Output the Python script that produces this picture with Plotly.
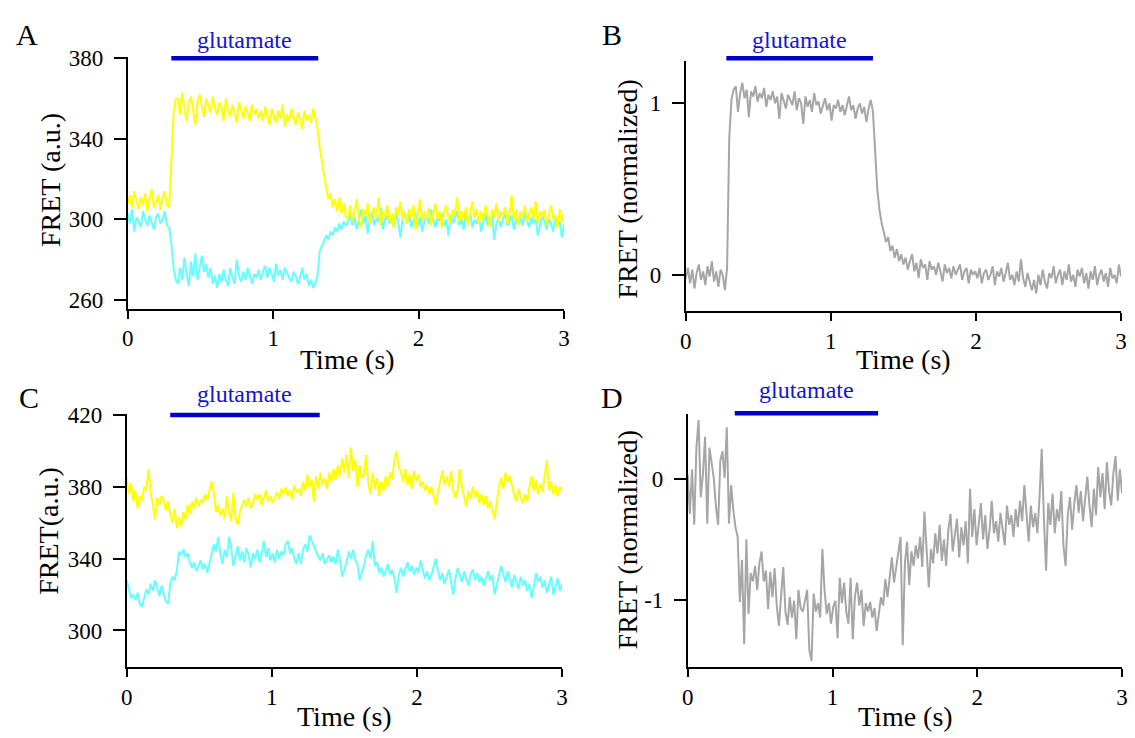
import numpy as np
import plotly.graph_objects as go

FONT = "Liberation Serif, Times New Roman, serif"
T_END = 3.0

# ---------------- data ----------------
A_YELLOW = [308, 312, 306, 314, 309, 305, 311, 307, 313, 304, 310, 315, 306, 309, 312, 305, 311, 314, 307, 306,
            330, 352, 360,
            360, 352, 363, 355, 349, 358, 361, 354, 347, 359, 362, 356, 351, 360, 357, 353, 361, 355,
            352, 358, 356, 349, 360, 354, 351, 357, 353, 348, 358, 355, 350, 356, 353, 349, 357, 352, 355, 350,
            354, 349, 356, 351, 347, 355, 352, 348, 354, 350, 357, 346, 352, 349, 355, 351, 347, 353, 350, 345,
            354, 349, 352, 348, 355, 351,
            345, 336, 328, 322, 316, 310, 313, 306, 310, 304, 311, 303, 308, 301,
            301, 307, 299, 304, 310, 300, 296, 305, 302, 308, 298, 303, 306, 300, 311, 297, 304, 301, 307, 299,
            303, 296, 306, 302, 309, 300, 304, 298, 305, 301, 307, 295, 303, 310, 299, 304, 300, 306, 297, 302,
            308, 300, 304, 296, 303, 307, 301, 298, 305, 302, 311, 299, 304, 300, 306, 297, 303, 309, 301, 305,
            298, 304, 300, 307, 302, 296, 305, 301, 308, 299, 304, 302, 306, 298, 303, 312, 300, 305, 297, 304,
            301, 307, 299, 303, 306, 300, 309, 298, 304, 301, 305, 297, 303, 307, 300, 302, 296, 305, 299, 303]

A_CYAN = [303, 298, 305, 294, 301, 299, 296, 304, 300, 297, 302, 299, 295, 301, 303, 298, 300, 304, 297, 296,
          288, 276, 270,
          268, 276, 270, 281, 273, 267, 279, 272, 283, 270, 276, 282, 274, 278, 271, 276, 268, 272,
          266, 273, 269, 275, 270, 267, 276, 271, 268, 280, 272, 269, 274, 270, 276, 272, 268, 273, 271, 275,
          270, 274, 277, 271, 276, 273, 269, 278, 272, 275, 270, 276, 273, 271, 269, 274, 272, 268, 271, 276,
          270, 273, 267, 270, 266, 268,
          272, 284, 287, 289, 292, 290, 294, 292, 296, 294, 298, 295, 299, 297,
          299, 303, 297, 301, 295, 300, 305, 298, 302, 293, 300, 304, 297, 301, 299, 306, 295, 300, 302, 298,
          301, 296, 303, 299, 291, 300, 304, 298, 302, 296, 300, 303, 297, 301, 294, 299, 302, 298, 305, 300,
          296, 301, 299, 303, 297, 300, 292, 302, 298, 301, 304, 297, 300, 295, 302, 299, 303, 296, 300, 298,
          301, 294, 299, 303, 297, 300, 302, 290, 298, 301, 296, 300, 303, 297, 299, 302, 295, 300, 298, 301,
          297, 303, 299, 296, 301, 298, 300, 292, 297, 302, 299, 295, 300, 298, 294, 301, 297, 299, 291, 298]

B_GRAY = [-0.02, 0.04, -0.05, 0.03, -0.08, 0.01, 0.06, -0.03, 0.02, -0.06, 0.05, -0.01, 0.08, -0.04, 0.02, -0.07, 0.03, 0.00, -0.09, 0.04,
          0.80, 1.02, 1.08,
          1.10, 0.95, 1.06, 1.12, 1.03, 1.08, 0.92, 1.07, 1.04, 1.10, 1.01, 1.06, 1.03, 1.09, 0.98, 1.05, 1.02, 1.07,
          1.00, 1.04, 0.91, 1.06, 1.01, 0.97, 1.05, 1.02, 0.99, 1.07, 0.96, 1.03, 1.00, 0.88, 1.04, 0.98, 1.02, 0.95, 1.06, 0.99,
          1.01, 0.94, 0.98, 1.03, 0.96, 1.00, 0.90, 0.99, 0.97, 1.02, 0.95, 0.99, 0.93, 0.98, 1.04, 0.96, 0.99, 0.91, 0.97, 1.00,
          0.94, 0.98, 0.89, 0.97, 1.02, 0.95,
          0.70, 0.50, 0.38, 0.30, 0.25, 0.19, 0.22, 0.14, 0.17, 0.10, 0.15, 0.08, 0.12, 0.06,
          0.10, 0.03, 0.08, 0.12, 0.02, 0.07, -0.02, 0.09, 0.04, 0.06, -0.03, 0.08, 0.03, 0.05, 0.00, 0.07, 0.02, -0.04, 0.06, 0.01,
          0.04, -0.02, 0.05, 0.00, 0.03, 0.06, -0.03, 0.02, 0.04, -0.05, 0.03, 0.00, 0.02,
          -0.02, 0.04, -0.05, 0.01, 0.03, -0.03, 0.00, 0.05, -0.06, 0.02, -0.01, 0.04, -0.04, 0.01, 0.07, -0.03, 0.00, -0.06, 0.02, -0.04,
          0.09, -0.02, -0.07, 0.01, -0.05, -0.09, -0.03, -0.11, 0.00, -0.06, 0.03, -0.04, -0.08, 0.01, -0.02, 0.05, -0.05, 0.00, 0.03, -0.06,
          0.02, -0.03, 0.06, -0.04, 0.00, -0.07, 0.03, -0.01, 0.04, -0.05, 0.01, -0.08, 0.02, -0.03, 0.05, -0.06, 0.00, 0.03, -0.04, 0.01,
          -0.07, 0.04, -0.02, 0.00, -0.05, 0.06, -0.01]

C_YELLOW = [385, 376, 382, 372, 378, 368, 375, 372, 380, 378, 390, 377, 370, 362, 374, 370, 375, 373, 367, 372,
            365, 360, 368, 357, 363, 358, 366, 362, 370, 365, 372, 368, 374, 369, 373, 371, 376, 373, 378, 383,
            377, 366, 370, 364, 368, 362, 375, 366, 361, 377, 363, 359, 366, 369, 373, 369, 374, 368, 371, 376,
            373, 376, 370, 374, 378, 372, 375, 371, 374, 377, 373, 379, 376, 380, 375, 378, 373, 381, 377, 379,
            375, 383, 378, 387, 380, 384, 372, 386, 379, 388, 381, 385, 379, 388, 383, 390, 384, 392, 386, 396,
            388, 398, 385, 402, 389, 395, 380, 392, 385, 387, 398, 382, 376, 388, 379, 385, 375, 383, 378, 386,
            380, 388, 384, 395, 400, 391, 388, 383, 390, 381, 387, 379, 389, 383, 387, 380, 383, 378, 381, 376,
            380, 375, 370, 377, 384, 389, 381, 386, 380, 389, 378, 374, 378, 390, 380, 374, 369, 378, 373, 380,
            374, 378, 371, 376, 370, 375, 368, 372, 366, 362, 371, 380, 385, 379, 388, 383, 386, 380, 376, 372,
            379, 374, 371, 376, 372, 380, 386, 378, 384, 376, 382, 377, 385, 395, 378, 383, 376, 381, 375, 380,
            378]

C_CYAN = [328, 322, 318, 320, 317, 321, 315, 313, 318, 323, 320, 326, 322, 328, 324, 319, 325, 321, 316, 315,
          326, 330, 328, 333, 344, 342, 345, 341, 343, 338, 335, 338, 333, 336, 339, 334, 337, 332, 338, 342,
          348, 344, 352, 343, 337, 345, 341, 352, 346, 336, 341, 347, 339, 344, 338, 346, 342, 335, 343, 340,
          345, 338, 343, 350, 341, 346, 339, 343, 338, 345, 340, 344, 342, 348, 350, 343, 346, 340, 337, 343,
          337, 345, 348, 344, 353, 350, 346, 343, 341, 339, 343, 337, 340, 342, 338, 341, 337, 345, 339, 330,
          334, 338, 344, 340, 345, 339, 337, 328, 332, 336, 342, 345, 340, 350, 336, 338, 332, 335, 330, 333,
          337, 331, 334, 329, 321, 331, 335, 330, 334, 338, 333, 336, 331, 335, 332, 339, 334, 329, 333, 328,
          331, 336, 340, 333, 328, 332, 326, 330, 334, 327, 320, 329, 335, 331, 327, 333, 329, 325, 331, 334,
          328, 332, 327, 330, 325, 329, 333, 328, 331, 320, 326, 330, 336, 331, 327, 333, 329, 324, 331, 327,
          323, 330, 325, 328, 322, 326, 318, 324, 332, 327, 330, 324, 328, 321, 326, 330, 320, 325, 329, 322,
          326]

D_GRAY = [0.04, -0.29, 0.08, -0.38, 0.26, 0.49, -0.15, 0.04, 0.35, -0.37, 0.26, 0.15, 0.01, -0.23, -0.38, 0.15, 0.23, 0.01, 0.43, -0.37,
          -0.05, -0.26, -0.40, -0.48, -1.02, -0.67, -1.37, -0.50, -1.12, -0.78, -0.85,
          -0.72, -0.92, -0.70, -0.60, -0.85, -0.76, -1.08, -0.77, -0.98, -0.74,
          -1.05, -1.22, -0.97, -0.73, -1.10, -1.21, -0.98, -1.15, -1.01, -1.33,
          -0.92, -1.07, -1.10, -1.00, -0.92, -1.42, -1.51, -0.95, -1.10, -1.03,
          -1.15, -0.58, -0.92, -1.12, -1.03, -1.20, -1.06, -1.01, -1.32, -0.82,
          -1.03, -0.86, -1.10, -1.20, -0.82, -1.33, -0.97, -0.86, -1.05, -0.92,
          -1.22, -1.03, -1.10, -1.02, -1.15, -1.07, -1.26, -1.12, -0.98, -1.05,
          -0.83, -0.98, -0.79, -0.65, -0.86, -0.73, -0.64, -0.48, -1.38,
          -0.70, -0.52, -0.88, -0.60, -0.72, -0.55, -0.66, -0.48, -0.73, -0.27,
          -0.62, -0.90, -0.58, -0.70, -0.45, -0.62, -0.38, -0.68, -0.50, -0.72,
          -0.42, -0.29, -0.60, -0.45, -0.33, -0.65, -0.40, -0.55, -0.35, -0.70,
          -0.08, -0.48, -0.25, -0.55, -0.38, -0.20, -0.50, -0.30, -0.58, -0.42,
          -0.18, -0.45, -0.35, -0.52, -0.28, -0.40, -0.55, -0.22, -0.38, -0.30,
          -0.48, -0.25, -0.40, -0.18, -0.35, -0.05, -0.30, -0.52, -0.22, -0.40,
          -0.28, -0.45, -0.15, 0.25, -0.32, -0.76, -0.20, -0.38, -0.12, -0.45,
          -0.25, -0.35, -0.10, -0.55, -0.72, -0.30, -0.15, -0.42, -0.20, -0.05,
          -0.28, -0.10, -0.35, -0.18, 0.02, -0.22, -0.40, -0.08, -0.30, 0.10,
          -0.15, 0.05, -0.25, 0.14, -0.10, -0.22, 0.05, 0.19, -0.18, 0.08,
          -0.12]

X_TICKS = [0, 1, 2, 3]
A_YTICKS = [260, 300, 340, 380]
B_YTICKS = [0, 1]
C_YTICKS = [300, 340, 380, 420]
D_YTICKS = [-1, 0]
D_YTICKTEXT = ["-1", "0"]

# glutamate application windows (s)
GLU_A = (0.30, 1.31)
GLU_B = (0.28, 1.29)
GLU_C = (0.30, 1.33)
GLU_D = (0.325, 1.315)

YELLOW = "#FFFF00"
CYAN = "#66FFFF"
GRAY = "#A6A6A6"
BLUE = "#0000CC"


def times(vals):
    return np.linspace(0, T_END, len(vals))


fig = go.Figure()
fig.add_trace(go.Scatter(x=times(A_CYAN), y=A_CYAN, mode="lines", line=dict(color=CYAN, width=2), xaxis="x", yaxis="y"))
fig.add_trace(go.Scatter(x=times(A_YELLOW), y=A_YELLOW, mode="lines", line=dict(color=YELLOW, width=2), xaxis="x", yaxis="y"))
fig.add_trace(go.Scatter(x=times(B_GRAY), y=B_GRAY, mode="lines", line=dict(color=GRAY, width=2), xaxis="x2", yaxis="y2"))
fig.add_trace(go.Scatter(x=times(C_CYAN), y=C_CYAN, mode="lines", line=dict(color=CYAN, width=2), xaxis="x3", yaxis="y3"))
fig.add_trace(go.Scatter(x=times(C_YELLOW), y=C_YELLOW, mode="lines", line=dict(color=YELLOW, width=2), xaxis="x3", yaxis="y3"))
fig.add_trace(go.Scatter(x=times(D_GRAY), y=D_GRAY, mode="lines", line=dict(color=GRAY, width=2), xaxis="x4", yaxis="y4"))

W, H = 1135, 738


def px_x(p):
    return p / W


def px_y(p):
    return 1 - p / H


base = dict(showline=True, linecolor="black", linewidth=1.6, ticks="outside", tickcolor="black",
            tickwidth=1.6, showgrid=False, zeroline=False,
            tickfont=dict(family=FONT, size=23, color="black"))


def xax(x0, x1, anchor):
    d = dict(base)
    d.update(domain=[px_x(x0), px_x(x1)], range=[0, T_END], tickvals=X_TICKS, ticklen=8,
             anchor=anchor, ticklabelstandoff=0)
    return d


def yax(y_top, y_bot, rng, tickvals, anchor, ticktext=None):
    d = dict(base)
    d.update(domain=[px_y(y_bot), px_y(y_top)], range=rng, tickvals=tickvals, ticklen=12,
             anchor=anchor, ticklabelstandoff=6)
    if ticktext is not None:
        d["ticktext"] = ticktext
    return d


fig.update_layout(
    width=W, height=H, autosize=False,
    margin=dict(l=0, r=0, t=0, b=0),
    paper_bgcolor="white", plot_bgcolor="white",
    showlegend=False,
    xaxis=xax(123, 564, "y"),
    yaxis=yax(46.7, 304, [255.6, 380.8], A_YTICKS, "x"),
    xaxis2=xax(687, 1127, "y2"),
    yaxis2=yax(50.7, 306.7, [-0.214, 1.249], B_YTICKS, "x2"),
    xaxis3=xax(122, 562, "y3"),
    yaxis3=yax(411.7, 670, [279.4, 420.5], C_YTICKS, "x3"),
    xaxis4=xax(689, 1128, "y4"),
    yaxis4=yax(411.7, 670, [-1.563, 0.537], D_YTICKS, "x4", D_YTICKTEXT),
)

shapes = []
annotations = []
for xr, (t0, t1), ypix, lab_y in [("x", GLU_A, 48.3, 29.3), ("x2", GLU_B, 48.3, 29.3),
                                   ("x3", GLU_C, 412.3, 390.7), ("x4", GLU_D, 410.7, 386.7)]:
    shapes.append(dict(type="line", xref=xr, yref="paper", x0=t0, x1=t1, y0=px_y(ypix), y1=px_y(ypix),
                       line=dict(color=BLUE, width=4.5)))
    annotations.append(dict(text="glutamate", xref=xr, yref="paper", x=(t0 + t1) / 2, y=px_y(lab_y),
                            xanchor="center", yanchor="middle", showarrow=False,
                            font=dict(family=FONT, size=24, color="#1414D2")))

# panel letters
for txt, xp, yp in [("A", 21, 23.5), ("B", 612, 23.5), ("C", 23, 395), ("D", 612, 395)]:
    annotations.append(dict(text=txt, xref="paper", yref="paper", x=px_x(xp), y=px_y(yp),
                            xanchor="center", yanchor="middle", showarrow=False,
                            font=dict(family=FONT, size=30, color="black")))

# axis titles
for txt, xp, yp, ang in [("FRET (a.u.)", 45, 173, -90), ("Time (s)", 345, 356, 0),
                         ("FRET (normalized)", 628, 181, -90), ("Time (s)", 907, 356, 0),
                         ("FRET(a.u.)", 43, 531, -90), ("Time (s)", 342, 720, 0),
                         ("FRET (normalized)", 628, 539, -90), ("Time (s)", 909, 720, 0)]:
    annotations.append(dict(text=txt, xref="paper", yref="paper", x=px_x(xp), y=px_y(yp),
                            xanchor="center", yanchor="middle", showarrow=False, textangle=ang,
                            font=dict(family=FONT, size=28, color="black")))

fig.update_layout(shapes=shapes, annotations=annotations)
fig.write_html("out.html", config={"displayModeBar": False},
               post_script="document.body.style.margin='0px';document.body.style.padding='0px';")
